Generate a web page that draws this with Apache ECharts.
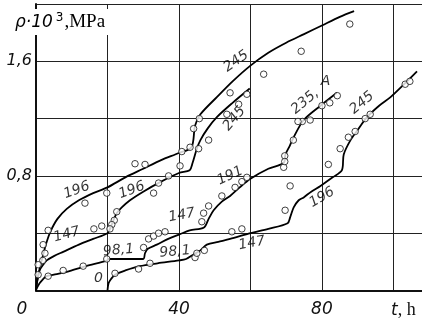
<!DOCTYPE html>
<html>
<head>
<meta charset="utf-8">
<script src="https://cdn.jsdelivr.net/npm/echarts@6/dist/echarts.min.js"></script>
<style>
html,body{margin:0;padding:0;background:#fff;}
#chart{width:422px;height:329px;}
</style>
</head>
<body>
<div id="chart"></div>
<script>
// creep curves: t (h) against p*10^3 (MPa), numbers on the curves are stress steps
const curve196to245 = [
  [0,0],[0.3,0.06],[1,0.15],[2,0.25],[3,0.34],[4,0.41],[6,0.50],[8.6,0.57],[12,0.63],[16,0.68],
  [20,0.72],[25,0.79],[30,0.85],[35,0.91],[40,0.96],[43.5,1.00],[44.5,1.15],[46,1.23],[50.6,1.35],
  [55,1.46],[60,1.57],[65,1.66],[70,1.73],[75,1.79],[80,1.85],[85,1.91],[89,1.95]
];
const curve147to245 = [
  [0,0],[0.3,0.06],[1,0.14],[2,0.18],[3,0.21],[5,0.24],[7.6,0.27],[12,0.32],[16,0.36],[20,0.40],
  [20.7,0.43],[21.5,0.48],[22.6,0.54],[24,0.58],[26.3,0.63],[30,0.69],[35,0.76],[40,0.82],[43,0.84],
  [43.8,0.89],[45,0.99],[46,1.05],[48,1.13],[50.6,1.21],[55,1.31],[59.8,1.41]
];
const curve98to235 = [
  [0,0],[0.3,0.02],[1,0.05],[2,0.08],[3,0.10],[5,0.11],[8.6,0.13],[14,0.17],[20,0.21],[20.3,0.22],
  [25,0.22],[30,0.22],[30.5,0.26],[31.2,0.29],[33.8,0.32],[37,0.36],[40,0.39],[43,0.42],[47,0.44],
  [48.3,0.50],[49.7,0.56],[52,0.62],[54.3,0.66],[57,0.72],[60,0.78],[65,0.85],[69.3,0.89],[69.8,0.95],
  [71,1.01],[72.1,1.07],[74.9,1.19],[79.6,1.29],[84.2,1.38]
];
const curve0to245 = [
  [20,0],[20.3,0.05],[21,0.08],[22.1,0.11],[25,0.14],[29,0.17],[34,0.19],[40,0.21],[42,0.22],
  [44,0.25],[46,0.28],[47.8,0.32],[51,0.34],[54.3,0.36],[60,0.40],[65,0.43],[70.4,0.47],[71.1,0.51],
  [72.1,0.58],[73.5,0.63],[74.9,0.65],[77,0.69],[79.6,0.73],[83,0.79],[85.6,0.84],[86.1,0.95],
  [88,1.05],[90,1.12],[92.6,1.21],[96,1.29],[99.2,1.35],[103,1.44],[106.6,1.53]
];
const measured = [
  [27.7,0.885],[30.5,0.88],[40.8,0.97],[40.3,0.87],[37.1,0.80],[34.3,0.75],[32.9,0.68],[19.8,0.68],
  [13.7,0.61],[22.6,0.55],[21.9,0.49],[21.2,0.46],[20.7,0.43],[18.4,0.45],[16.2,0.43],[3.4,0.42],
  [2.0,0.32],[2.5,0.26],[1.9,0.21],[0.6,0.18],[0.6,0.11],[3.4,0.10],[7.6,0.14],[13.2,0.17],[19.8,0.22],
  [30.1,0.30],[31.5,0.36],[32.9,0.38],[34.3,0.40],[36.1,0.41],[22.1,0.12],[28.7,0.15],[31.9,0.19],
  [46.9,0.54],[46.4,0.48],[48.3,0.59],[52.0,0.66],[55.7,0.72],[57.6,0.76],[59.0,0.79],[71.1,0.73],
  [69.7,0.56],[54.8,0.41],[57.6,0.43],[44.5,0.23],[45.0,0.26],[47.1,0.28],[63.7,1.51],[54.3,1.38],
  [59.0,1.37],[56.7,1.30],[53.4,1.23],[45.7,1.20],[44.1,1.13],[48.3,1.05],[45.5,0.99],[43.1,1.00],
  [69.3,0.86],[87.8,1.86],[74.2,1.67],[82.2,1.31],[84.3,1.36],[80.0,1.29],[76.7,1.19],[74.5,1.18],
  [73.3,1.18],[72.0,1.05],[69.6,0.94],[69.6,0.90],[81.8,0.88],[103.3,1.44],[104.6,1.46],[93.5,1.23],
  [92.1,1.20],[89.3,1.11],[87.4,1.07],[85.1,0.99]
];
// text, t, p, rotation
const curveLabels = [
  ['196',11.4,0.70,20],['196',26.8,0.70,20],['147',8.6,0.39,15],['98,1',23.1,0.28,5],
  ['98,1',38.9,0.27,5],['0',17.5,0.085,0],['147',40.8,0.525,10],['191',54.3,0.80,25],
  ['147',60.4,0.33,10],['196',80.0,0.65,30],['235,',75.3,1.32,40],['A',81.0,1.46,0],
  ['245',91.2,1.31,40],['245',56.0,1.60,35],['245',55.5,1.20,50]
];
const xTickValues = [0, 40, 80];
const yTickValues = [0.8, 1.6];
const yTickText = ['0,8', '1,6'];

var myChart = echarts.init(document.getElementById('chart'));

function curve(data){
  return {
    type: 'line',
    data: data,
    showSymbol: false,
    smooth: 0.3,
    lineStyle: {color: '#000', width: 1.8},
    z: 2
  }
}

myChart.setOption({
  animation: false,
  backgroundColor: '#fff',
  title: {
    text: '{a|ρ·10}{s|3}{b|,MPa}',
    left: 12,
    top: 9,
    padding: [3, 3],
    backgroundColor: '#fff',
    textStyle: {
      fontWeight: 'normal',
      rich: {
        a: {fontFamily: 'DejaVu Sans', fontStyle: 'italic', fontWeight: 'normal', fontSize: 17, color: '#000'},
        s: {fontFamily: 'DejaVu Sans', fontWeight: 'normal', fontSize: 12, color: '#000', verticalAlign: 'top', padding: [0, 1, 9, 3]},
        b: {fontFamily: 'Liberation Serif', fontWeight: 'normal', fontSize: 19, color: '#000'}
      }
    }
  },
  grid: {left: 36, right: 0, top: 4, bottom: 38.5, outerBoundsMode: 'none'},
  xAxis: {
    type: 'value',
    min: 0, max: 108, interval: 20,
    axisLine: {lineStyle: {color: '#111', width: 2}},
    axisTick: {show: false},
    splitLine: {lineStyle: {color: '#222', width: 1}},
    axisLabel: {
      margin: 11,
      showMaxLabel: false,
      formatter: function(v){
        if (v === 0) return '{z|0}';
        if (v === 100) return '{t|t}{h|, h}';
        return xTickValues.indexOf(v) >= 0 ? '{n|' + v + '}' : '';
      },
      rich: {
        z: {fontFamily: 'DejaVu Sans', fontStyle: 'italic', fontSize: 17, color: '#111', padding: [0, 28, 0, 0]},
        n: {fontFamily: 'DejaVu Sans', fontStyle: 'italic', fontSize: 17, color: '#111'},
        t: {fontFamily: 'DejaVu Sans', fontStyle: 'italic', fontSize: 17, color: '#111', padding: [0, 0, 0, 20]},
        h: {fontFamily: 'Liberation Serif', fontSize: 18, color: '#111'}
      }
    }
  },
  yAxis: {
    type: 'value',
    min: 0, max: 2.0, interval: 0.4,
    axisLine: {show: true, lineStyle: {color: '#111', width: 2}},
    axisTick: {show: false},
    splitLine: {lineStyle: {color: '#222', width: 1}},
    axisLabel: {
      margin: 4,
      fontFamily: 'DejaVu Sans',
      fontStyle: 'italic',
      fontSize: 16,
      color: '#111',
      formatter: function(v){
        for (var i = 0; i < yTickValues.length; i++) {
          if (Math.abs(v - yTickValues[i]) < 1e-6) return yTickText[i];
        }
        return '';
      }
    }
  },
  series: [
    curve(curve196to245),
    curve(curve147to245),
    curve(curve98to235),
    curve(curve0to245),
    {
      type: 'scatter',
      data: measured,
      symbol: 'circle',
      symbolSize: 6.5,
      itemStyle: {color: '#fff', borderColor: '#111', borderWidth: 1},
      z: 3
    },
    {
      type: 'scatter',
      symbolSize: 0,
      silent: true,
      z: 4,
      data: curveLabels.map(function(l){
        return {name: l[0], value: [l[1], l[2]], label: {rotate: l[3]}};
      }),
      label: {
        show: true,
        position: 'inside',
        formatter: '{b}',
        fontFamily: 'DejaVu Sans',
        fontStyle: 'italic',
        fontSize: 14,
        color: '#000'
      }
    }
  ]
});
</script>
</body>
</html>
